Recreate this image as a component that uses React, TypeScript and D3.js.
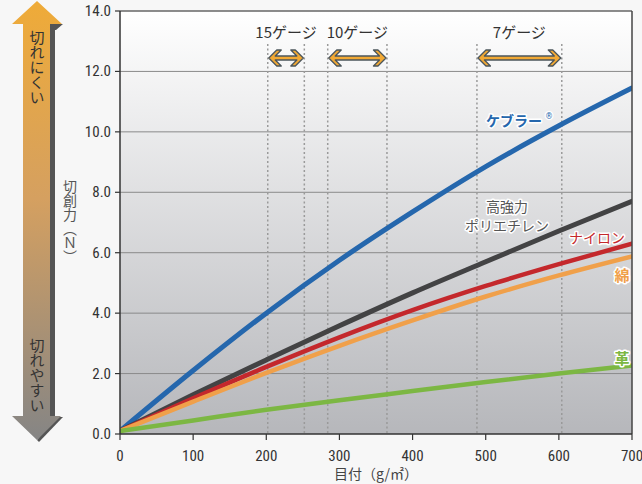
import React from "react";
import * as d3 from "d3";

const xTicks = [0, 100, 200, 300, 400, 500, 600, 700];
const yTicks = [0, 2, 4, 6, 8, 10, 12, 14];
const grams = [0, 100, 200, 300, 400, 500, 600, 700];
const kevlar = [0.1, 2.1, 4.0, 5.75, 7.35, 8.85, 10.2, 11.45];
const polyethylene = [0.1, 1.3, 2.45, 3.58, 4.67, 5.7, 6.72, 7.7];
const nylon = [0.1, 1.18, 2.22, 3.2, 4.1, 4.9, 5.62, 6.3];
const cotton = [0.1, 1.07, 2.02, 2.92, 3.76, 4.55, 5.25, 5.88];
const leather = [0.1, 0.45, 0.8, 1.12, 1.42, 1.72, 2.0, 2.27];
const gaugeNames = ["15ゲージ", "10ゲージ", "7ゲージ"];
const gaugeFrom = [202, 284, 488];
const gaugeTo = [252, 365, 604];

const W = 642, H = 484;
const x = d3.scaleLinear().domain([0, 700]).range([120, 632]);
const y = d3.scaleLinear().domain([0, 14]).range([434, 11]);

const series = [
  { v: kevlar, color: "#2567ad", w: 5 },
  { v: polyethylene, color: "#434344", w: 5 },
  { v: nylon, color: "#c4282c", w: 4.5 },
  { v: cotton, color: "#f0a04a", w: 4.5 },
  { v: leather, color: "#7cb743", w: 4.5 },
];

const jp = "'Noto Sans CJK JP', 'Noto Sans', sans-serif";
const num = "'Liberation Sans Narrow', 'Roboto Condensed', Roboto, sans-serif";

function dblArrow(L: number, R: number, c: number) {
  const p = [
    [L, c], [L + 8, c - 8], [L + 12.5, c - 8], [L + 6.5, c - 2], [R - 6.5, c - 2], [R - 12.5, c - 8], [R - 8, c - 8],
    [R, c], [R - 8, c + 8], [R - 12.5, c + 8], [R - 6.5, c + 2], [L + 6.5, c + 2], [L + 12.5, c + 8], [L + 8, c + 8],
  ];
  return "M" + p.map((q) => q.join(",")).join("L") + "Z";
}

export default function App() {
  const line = d3
    .line<number>()
    .x((_, i) => x(grams[i]))
    .y((d) => y(d))
    .curve(d3.curveMonotoneX);

  const halo = { paintOrder: "stroke", stroke: "#fff", strokeWidth: 3, strokeLinejoin: "round" } as any;

  return (
    <div style={{ position: "absolute", left: 0, top: 0 }}>
      <svg width={W} height={H} style={{ display: "block", background: "#f7f7f7" }}>
        <defs>
          <linearGradient id="bg" x1="0" y1="0" x2="0" y2="1">
            <stop offset="0" stopColor="#ffffff" />
            <stop offset="1" stopColor="#b6b7bb" />
          </linearGradient>
          <linearGradient id="arr" x1="0" y1="0" x2="0" y2="1">
            <stop offset="0" stopColor="#efab38" />
            <stop offset="0.45" stopColor="#d5a060" />
            <stop offset="1" stopColor="#858585" />
          </linearGradient>
          <clipPath id="clip">
            <rect x={120} y={11} width={512} height={423} />
          </clipPath>
        </defs>

        {/* left arrow */}
        <path d="M50,24 L63,24 L56,30 L55,30 L55,417 L50,417 Z" fill="#555" />
        <path d="M55,417 L63,417 L39,442 L37,440 Z" fill="#555" />
        <path
          d="M37,1 L62,24 L50,24 L50,416 L61,416 L37,440 L12,416 L23,416 L23,24 L12,24 Z"
          fill="url(#arr)"
        />
        <text x={37} y={30} fontFamily={jp} fontSize={15} fill="#333" style={{ writingMode: "vertical-rl" } as any}>
          切れにくい
        </text>
        <text x={37} y={338} fontFamily={jp} fontSize={15} fill="#333" style={{ writingMode: "vertical-rl" } as any}>
          切れやすい
        </text>
        <text x={70} y={180} fontFamily={jp} fontSize={14} fill="#555" style={{ writingMode: "vertical-rl" } as any}>
          切創力（Ｎ）
        </text>

        {/* plot background */}
        <rect x={120} y={11} width={512} height={423} fill="url(#bg)" />
        {yTicks.slice(1, -1).map((t) => (
          <line key={t} x1={120} x2={632} y1={y(t)} y2={y(t)} stroke="#8a8a8a" strokeWidth={1} />
        ))}
        {gaugeFrom.concat(gaugeTo).map((g, i) => (
          <line key={i} x1={x(g)} x2={x(g)} y1={44} y2={434} stroke="#9a9a9a" strokeWidth={1.5} strokeDasharray="2,2.5" />
        ))}

        {/* curves */}
        <g clipPath="url(#clip)">
          {series.map((s, i) => (
            <path key={i} d={line(s.v) || ""} fill="none" stroke={s.color} strokeWidth={s.w} strokeLinecap="round" />
          ))}
        </g>

        {/* frame */}
        <line x1={120} x2={632} y1={11} y2={11} stroke="#666" strokeWidth={1.5} />
        <line x1={632} x2={632} y1={11} y2={434} stroke="#444" strokeWidth={1.5} />
        <line x1={120} x2={120} y1={11} y2={434} stroke="#333" strokeWidth={1.5} />
        <line x1={120} x2={632} y1={434} y2={434} stroke="#333" strokeWidth={1.5} />

        {/* y ticks */}
        {yTicks.map((t) => (
          <g key={t}>
            <line x1={115} x2={120} y1={y(t)} y2={y(t)} stroke="#333" strokeWidth={1.2} />
            <text x={111} y={y(t) + 5} textAnchor="end" fontFamily={num} fontSize={15} fill="#333">
              {t.toFixed(1)}
            </text>
          </g>
        ))}
        {/* x ticks */}
        {xTicks.map((t) => (
          <g key={t}>
            <line x1={x(t)} x2={x(t)} y1={434} y2={440} stroke="#333" strokeWidth={1.2} />
            <text x={x(t)} y={461} textAnchor="middle" fontFamily={num} fontSize={15} fill="#333">
              {t}
            </text>
          </g>
        ))}
        <text x={376} y={479} textAnchor="middle" fontFamily={jp} fontSize={14} fill="#444">
          目付（g/㎡）
        </text>

        {/* gauge annotations */}
        {gaugeNames.map((n, i) => {
          const L = x(gaugeFrom[i]), R = x(gaugeTo[i]);
          return (
            <g key={n}>
              <text x={(L + R) / 2} y={38} textAnchor="middle" fontFamily={jp} fontSize={15} fill="#333">
                {n}
              </text>
              <path d={dblArrow(L + 1, R - 1, 58)} fill="#f2a934" stroke="#4b555b" strokeWidth={1.3} strokeLinejoin="round" />
            </g>
          );
        })}

        {/* labels */}
        <text x={514} y={126} textAnchor="middle" fontFamily={jp} fontSize={14} fontWeight={700} fill="#2567ad" style={halo}>
          ケブラー
        </text>
        <text x={545} y={119} fontFamily="'DejaVu Sans', sans-serif" fontSize={8} fill="#2567ad" style={halo}>®</text>
        <text x={507} y={212} textAnchor="middle" fontFamily={jp} fontSize={14} fill="#555" style={halo}>
          高強力
        </text>
        <text x={507} y={231} textAnchor="middle" fontFamily={jp} fontSize={14} fill="#555" style={halo}>
          ポリエチレン
        </text>
        <text x={597} y={243} textAnchor="middle" fontFamily={jp} fontSize={14} fill="#c4282c" style={halo}>
          ナイロン
        </text>
        <text x={622} y={281} textAnchor="middle" fontFamily={jp} fontSize={15} fontWeight={700} fill="#f0a04a" style={halo}>
          綿
        </text>
        <text x={622} y={364} textAnchor="middle" fontFamily={jp} fontSize={15} fontWeight={700} fill="#7cb743" style={halo}>
          革
        </text>
      </svg>
    </div>
  );
}
